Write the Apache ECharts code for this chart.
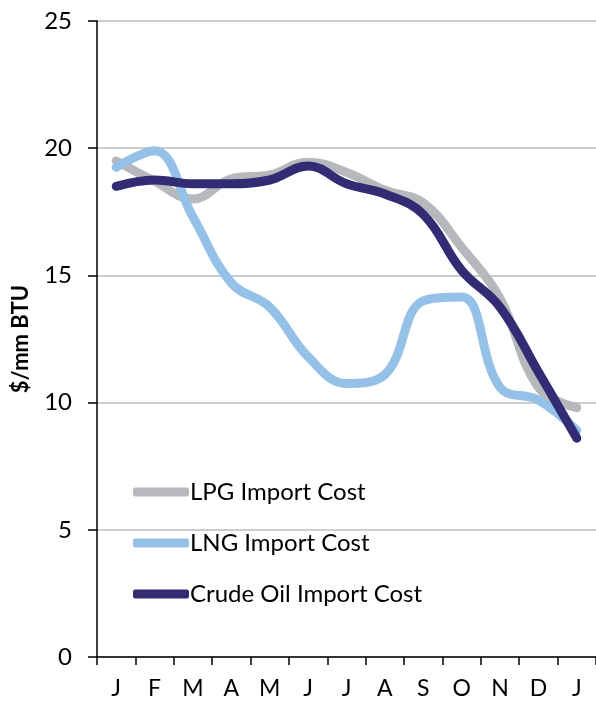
<!DOCTYPE html>
<html>
<head>
<meta charset="utf-8">
<script src="https://cdn.jsdelivr.net/npm/echarts@6/dist/echarts.min.js"></script>
<style>
  html, body { margin: 0; padding: 0; background: #fff; }
  #chart { width: 596px; height: 702px; }
</style>
</head>
<body>
<div id="chart"></div>
<script>
// months (Jan .. Jan)
var months = ['J', 'F', 'M', 'A', 'M', 'J', 'J', 'A', 'S', 'O', 'N', 'D', 'J']

// $/mm BTU
var lpgCost = [19.5, 18.7, 18.0, 18.8, 18.95, 19.45, 19.05, 18.35, 17.85, 16.1, 14.1, 10.6, 9.8]
var lngCost = [19.25, 19.9, 17.3, 14.7, 13.75, 11.8, 10.75, 11.1, 14.0, 14.15, 10.6, 10.1, 8.9]
var crudeCost = [18.5, 18.75, 18.6, 18.6, 18.75, 19.3, 18.6, 18.2, 17.4, 15.2, 13.75, 11.2, 8.6]

var seriesNames = ['LPG Import Cost', 'LNG Import Cost', 'Crude Oil Import Cost']
var seriesColors = ['#b7b8bb', '#95c1e8', '#312c74']

var font = 'Lato, "Open Sans", sans-serif'

function lineSeries(name, color, data) {
  return {
    name: name,
    type: 'line',
    smooth: 0.4,
    symbol: 'none',
    data: data,
    lineStyle: { color: color, width: 9, cap: 'round', join: 'round' },
    itemStyle: { color: color }
  }
}

var myChart = echarts.init(document.getElementById('chart'))
var option = {
  animation: false,
  textStyle: { fontFamily: font, color: '#000' },
  grid: { left: 97, right: 0, top: 21, bottom: 45, outerBoundsMode: 'none', containLabel: false },
  legend: {
    orient: 'vertical',
    left: 128,
    top: 475,
    itemWidth: 56,
    itemHeight: 9,
    itemGap: 27,
    icon: 'roundRect',
    data: seriesNames,
    textStyle: { fontFamily: font, fontSize: 24, color: '#000', padding: [0, 0, 0, -4] }
  },
  xAxis: {
    type: 'category',
    boundaryGap: true,
    data: months,
    axisLine: { lineStyle: { color: '#000', width: 1.5 } },
    axisTick: { show: true, length: 8, lineStyle: { color: '#000', width: 1.5 } },
    axisLabel: { fontSize: 23, color: '#000', margin: 20, fontFamily: font }
  },
  yAxis: {
    type: 'value',
    min: 0,
    max: 25,
    interval: 5,
    name: '$/mm BTU',
    nameLocation: 'middle',
    nameGap: 65,
    nameTextStyle: { fontSize: 22, fontWeight: 'bold', color: '#000', fontFamily: font },
    axisLine: { show: true, lineStyle: { color: '#000', width: 1.5 } },
    axisTick: { show: true, length: 9, lineStyle: { color: '#000', width: 1.5 } },
    axisLabel: { fontSize: 24, color: '#000', margin: 25, fontFamily: font },
    splitLine: { lineStyle: { color: '#bcbcbc', width: 1.5 } }
  },
  series: [
    lineSeries(seriesNames[0], seriesColors[0], lpgCost),
    lineSeries(seriesNames[1], seriesColors[1], lngCost),
    lineSeries(seriesNames[2], seriesColors[2], crudeCost)
  ]
}
myChart.setOption(option)
</script>
</body>
</html>
